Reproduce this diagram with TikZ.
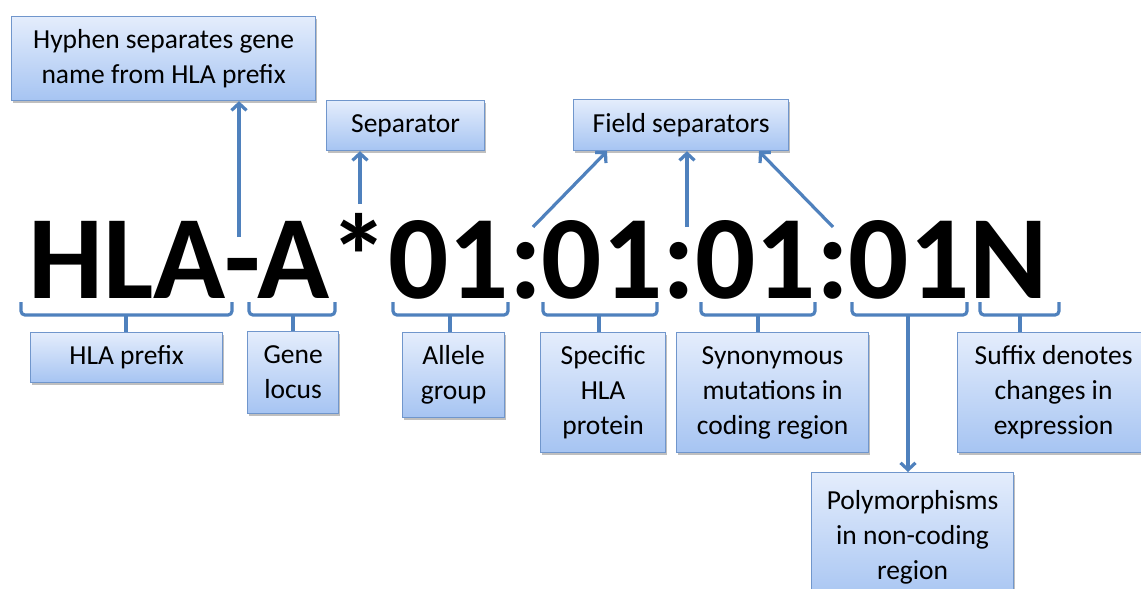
\documentclass[tikz,border=0pt]{standalone}
\usepackage{fontspec}
\setmainfont{Carlito}
\usetikzlibrary{arrows.meta,shadows}
\definecolor{linecol}{HTML}{4F81BD}
\definecolor{boxline}{HTML}{7096CC}
\definecolor{boxtop}{HTML}{E4EDFC}
\definecolor{boxbot}{HTML}{A6C4F2}
\begin{document}
\begin{tikzpicture}[x=1pt,y=-1pt,
  lbl/.style={draw=boxline, line width=1.2pt, top color=boxtop, bottom color=boxbot,
    drop shadow={shadow xshift=1.5pt,shadow yshift=-2.5pt,fill=black,opacity=0.25},
    align=center, font=\fontsize{27.5}{35}\selectfont, inner sep=0pt, anchor=north west},
  conn/.style={draw=linecol, line width=3.2pt},
  arr/.style={conn, -{Straight Barb[length=7pt,width=15pt]}},
  bracepath/.style={conn, rounded corners=4pt}]
\useasboundingbox (0,0) rectangle (1141,589);
\fill[white] (0,0) rectangle (1141,589);

% label boxes
\node[lbl, minimum width=304pt, minimum height=84pt] (hyph) at (11,16) {Hyphen separates gene\\name from HLA prefix};
\node[lbl, minimum width=158pt, minimum height=50pt] (sep) at (326,100) {Separator};
\node[lbl, minimum width=215pt, minimum height=51pt] (field) at (573,99) {Field separators};
\node[lbl, minimum width=192pt, minimum height=50pt] (prefix) at (30,332) {HLA prefix};
\node[lbl, minimum width=91pt, minimum height=82pt] (gene) at (247,331) {Gene\\locus};
\node[lbl, minimum width=102pt, minimum height=85pt] (allele) at (402,332) {Allele\\group};
\node[lbl, minimum width=125pt, minimum height=120pt] (specific) at (540,332) {Specific\\HLA\\protein};
\node[lbl, minimum width=192pt, minimum height=120pt] (synon) at (676,332) {Synonymous\\mutations in\\coding region};
\node[lbl, minimum width=202pt, minimum height=130pt] (poly) at (811,472) {Polymorphisms\\in non-coding\\region};
\node[lbl, minimum width=192pt, minimum height=120pt] (suffix) at (957,332) {Suffix denotes\\changes in\\expression};

% the allele name
\node[anchor=base west, inner sep=0pt, font=\fontsize{119}{119}\selectfont\bfseries] (code) at (28,298) {HLA-A*01:01:01:01N};

% arrows up
\coordinate (hA) at (239,237);
\draw[arr] (hA) -- (hA |- hyph.south);
\coordinate (sA) at (360,204);
\draw[arr] (sA) -- (sA |- sep.south);
\coordinate (c1) at (533,227);
\coordinate (c2) at (687,227);
\coordinate (c3) at (833,227);
\draw[arr] (c1) -- ([xshift=34pt]field.south west);
\draw[arr] (c2) -- ([xshift=114pt]field.south west);
\draw[arr] (c3) -- ([xshift=186pt]field.south west);

% brackets
\foreach \xa/\xb/\xm/\tg in {21/232/126/prefix, 249/335/293/gene, 393/508/450/allele,
  543/657/599/specific, 701/815/758/synon, 980/1059/1020/suffix}{
  \draw[bracepath] (\xa,302) |- (\xm,315) -| (\xb,302);
  \coordinate (m-\tg) at (\xm,315);
  \draw[conn] (m-\tg) -- (m-\tg |- \tg.north);
}
\draw[bracepath] (852,302) |- (908,315) -| (967,302);
\coordinate (m-poly) at (908,315);
\draw[arr] (m-poly) -- (m-poly |- poly.north);
\end{tikzpicture}
\end{document}
